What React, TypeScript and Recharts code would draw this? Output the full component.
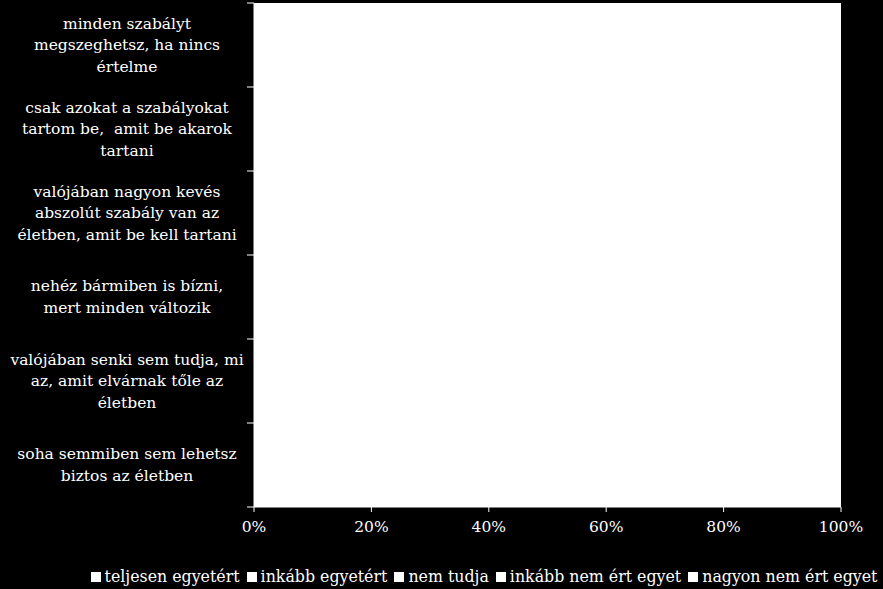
import React from 'react';
import { BarChart, Bar, XAxis, YAxis, CartesianGrid, Legend } from 'recharts';

const categories = [
  ['minden szabályt', 'megszeghetsz, ha nincs', 'értelme'],
  ['csak azokat a szabályokat', 'tartom be,  amit be akarok', 'tartani'],
  ['valójában nagyon kevés', 'abszolút szabály van az', 'életben, amit be kell tartani'],
  ['nehéz bármiben is bízni,', 'mert minden változik'],
  ['valójában senki sem tudja, mi', 'az, amit elvárnak tőle az', 'életben'],
  ['soha semmiben sem lehetsz', 'biztos az életben'],
];

const seriesNames = [
  'teljesen egyetért',
  'inkább egyetért',
  'nem tudja',
  'inkább nem ért egyet',
  'nagyon nem ért egyet',
];

const teljesen = [10, 15, 25, 20, 18, 12];
const inkabb = [20, 25, 30, 28, 25, 18];
const nemTudja = [15, 12, 15, 17, 22, 15];
const inkabbNem = [30, 28, 20, 22, 20, 30];
const nagyonNem = [25, 20, 10, 13, 15, 25];

const xTicks = [0, 20, 40, 60, 80, 100];

const seriesValues = [teljesen, inkabb, nemTudja, inkabbNem, nagyonNem];

const data = categories.map((lines, i) => {
  const row: any = { name: lines.join(' '), idx: i };
  seriesNames.forEach((s, k) => {
    row[s] = seriesValues[k][i];
  });
  return row;
});

const FONT = '"DejaVu Serif", serif';
const BAND = 504 / categories.length;

const CategoryTick = (props: any) => {
  const { y, payload, index } = props;
  const i0 = payload.index ?? index;
  const lines = categories[i0] || [];
  const n = lines.length;
  const last = i0 === categories.length - 1;
  return (
    <g>
      <line x1={247} x2={254} y1={y - BAND / 2} y2={y - BAND / 2} stroke="#fff" strokeWidth={1} />
      {last && <line x1={247} x2={254} y1={y + BAND / 2} y2={y + BAND / 2} stroke="#fff" strokeWidth={1} />}
      {lines.map((t, i) => (
        <text
          key={i}
          x={127}
          y={y + (i - (n - 1) / 2) * 21.5}
          textAnchor="middle"
          dominantBaseline="central"
          fill="#fff"
          fontSize={15.5}
          fontFamily={FONT}
          style={{ whiteSpace: 'pre' }}
        >
          {t}
        </text>
      ))}
    </g>
  );
};

const LegendContent = () => (
  <div
    style={{
      height: 42,
      display: 'flex',
      alignItems: 'flex-end',
      justifyContent: 'center',
      paddingLeft: 134,
      boxSizing: 'border-box',
      paddingBottom: 2,
    }}
  >
    {seriesNames.map((s) => (
      <div key={s} style={{ display: 'flex', alignItems: 'center', marginRight: 7, lineHeight: '20px' }}>
        <span style={{ width: 10, height: 10, background: '#fff', display: 'inline-block', marginRight: 4 }} />
        <span style={{ color: '#fff', fontSize: 15.8, fontFamily: FONT, whiteSpace: 'nowrap' }}>{s}</span>
      </div>
    ))}
  </div>
);

export default function App() {
  return (
    <div style={{ position: 'fixed', left: 0, top: 0, width: 883, height: 589, background: '#000' }}>
      <BarChart
        width={883}
        height={589}
        data={data}
        layout="vertical"
        barCategoryGap="50%"
        margin={{ top: 3, right: 42, left: 0, bottom: 0 }}
      >
        <CartesianGrid fill="#fff" stroke="none" horizontal={false} vertical={false} />
        <XAxis
          type="number"
          domain={[0, 100]}
          ticks={xTicks}
          tickFormatter={(v) => `${v}%`}
          height={40}
          tick={{ fill: '#fff', fontSize: 15.5, fontFamily: FONT }}
          tickSize={5}
          tickMargin={9}
          axisLine={{ stroke: '#fff' }}
          tickLine={{ stroke: '#fff' }}
          interval={0}
        />
        <YAxis
          type="category"
          dataKey="name"
          width={254}
          tick={<CategoryTick />}
          tickLine={false}
          axisLine={{ stroke: '#fff' }}
          interval={0}
        />
        <Legend verticalAlign="bottom" content={<LegendContent />} />
        {seriesNames.map((s) => (
          <Bar key={s} dataKey={s} stackId="a" fill="#fff" isAnimationActive={false} />
        ))}
      </BarChart>
    </div>
  );
}
